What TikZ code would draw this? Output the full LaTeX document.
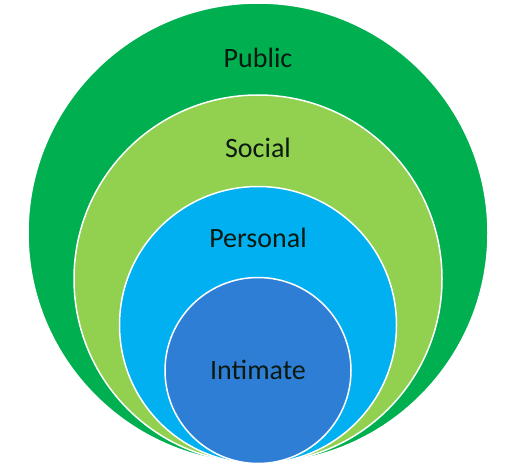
\documentclass[tikz,border=0pt]{standalone}
\usepackage{fontspec}
\setmainfont{Carlito}
\definecolor{publicgreen}{HTML}{00B050}
\definecolor{socialgreen}{HTML}{92D050}
\definecolor{personalblue}{HTML}{00B0F0}
\definecolor{intimateblue}{HTML}{2E7ED6}
\definecolor{labeltext}{HTML}{0A1A10}

\begin{document}
\begin{tikzpicture}[x=1pt, y=-1pt,
	zone/.style={circle, draw=white, line width=1.5pt, inner sep=0pt, outer sep=0pt},
	zonelabel/.style={text=labeltext, font=\fontsize{28}{34}\selectfont, inner sep=0pt}]
	\useasboundingbox (0, 0) rectangle (516, 465);
	% Circles, all touching at the bottom:
	\node[zone, fill=publicgreen, minimum size=460pt] (public) at (258, 233){};
	\node[zone, fill=socialgreen, minimum size=368pt] (social) at (258, 279){};
	\node[zone, fill=personalblue, minimum size=277pt] (personal) at (258, 325){};
	\node[zone, fill=intimateblue, minimum size=186pt] (intimate) at (258, 370.5){};
	% Labels:
	\node[zonelabel] (publiclabel) at (258, 58){Public};
	\node[zonelabel] (sociallabel) at (258, 148){Social};
	\node[zonelabel] (personallabel) at (258, 238){Personal};
	\node[zonelabel] (intimatelabel) at (258, 370){Intimate};
\end{tikzpicture}
\end{document}
